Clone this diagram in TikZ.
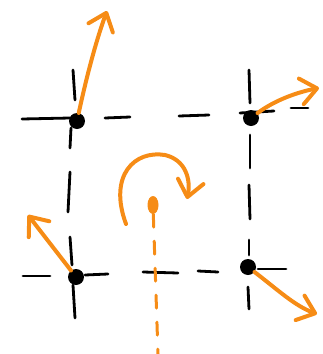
\documentclass[tikz,border=0pt]{standalone}
\usetikzlibrary{arrows.meta,shapes.geometric}
\definecolor{penorange}{RGB}{246,140,22}
\tikzset{
    gridline/.style={line width=2.8pt, line cap=round},
    vertex/.style={circle, fill=black, inner sep=0pt, minimum size=16pt},
    turn/.style={penorange, line width=4pt, line cap=round, line join=round, -{Straight Barb[length=16pt,width=26pt,round]}},
    pivot/.style={ellipse, fill=penorange, inner sep=0pt, minimum width=11pt, minimum height=18pt},
}
\begin{document}
\begin{tikzpicture}[x=1pt, y=-1pt]
            \useasboundingbox (0,0) rectangle (322,354);

            % Draw the dashed grid lines
            \foreach \a/\b/\c/\d in {22/119/70/118, 105/118/130/117, 179/116/209/115, 240/113/274/111, 291/108/308/108,
                                     23/276/50/276, 85/275/108/274, 143/272/178/273, 198/271/218/272, 258/269/286/269,
                                     73/70/75/100, 71/128/70/148, 70/172/68/212, 70/237/72/265, 73/285/75/318,
                                     249/70/250/103, 250/135/250/168, 249/185/250/219, 249/240/249/255, 248/287/249/309} {
                    \draw[gridline] (\a,\b) -- (\c,\d);
                }

            % Place the four vertices
            \node[vertex] (tl) at (77,121) {};
            \node[vertex] (tr) at (251,118) {};
            \node[vertex] (bl) at (76,277) {};
            \node[vertex] (br) at (248,267) {};

            % Arrow ends
            \coordinate (tlend) at (107,11);
            \coordinate (trend) at (319,88);
            \coordinate (blend) at (28,215);
            \coordinate (brend) at (317,314);

            % Draw the arrows out of the vertices
            \draw[turn] (tl) .. controls (88,70) and (98,35) .. (tlend);
            \draw[turn] (tr) .. controls (275,100) and (298,92) .. (trend);
            \draw[turn] (bl) -- (blend);
            \draw[turn] (br) .. controls (278,290) and (295,306) .. (brend);

            % Draw the axis and the rotation about it
            \node[pivot] (pivot) at (153,205) {};
            \coordinate (axisend) at (158,354);
            \draw[penorange, line width=3pt, line cap=round, dash pattern=on 13pt off 14pt] (pivot) -- (axisend);
            \coordinate (spinstart) at (126,224);
            \coordinate (spinend) at (187,199);
            \draw[turn] (spinstart) .. controls (108,175) and (135,150) .. (165,155) .. controls (186,160) and (191,180) .. (spinend);
        \end{tikzpicture}
\end{document}
